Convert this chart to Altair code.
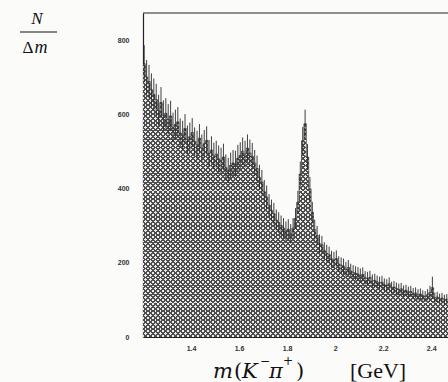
import altair as alt
import pandas as pd

# ---- data ----
bin_start = 1.20
bin_width = 0.01
counts = [
    738, 702, 690, 668, 655, 641, 612, 633, 598, 604,
    588, 597, 566, 574, 581, 551, 545, 563, 533, 541,
    552, 528, 519, 537, 510, 522, 531, 496, 505, 489,
    494, 481, 476, 486, 458, 450, 463, 470, 468, 483,
    490, 502, 494, 510, 497, 488, 470, 455, 431, 418,
    392, 378, 356, 342, 333, 316, 309, 301, 294, 286,
    291, 279, 294, 320, 364, 440, 530, 576, 486, 400,
    336, 290, 274, 252, 249, 233, 226, 222, 211, 208,
    212, 197, 194, 191, 183, 188, 178, 175, 172, 170,
    166, 169, 160, 158, 161, 151, 153, 149, 146, 148,
    141, 139, 144, 133, 135, 131, 128, 130, 124, 126,
    121, 123, 117, 119, 114, 116, 112, 110, 114, 120,
    133, 106, 108, 103, 105, 100, 102,
]
errors = [
    50, 46, 45, 44, 43, 43, 42, 42, 41, 41,
    41, 41, 40, 40, 40, 39, 39, 39, 38, 38,
    39, 38, 38, 38, 37, 37, 38, 36, 37, 36,
    36, 36, 35, 36, 35, 34, 35, 35, 35, 36,
    36, 37, 36, 37, 36, 36, 35, 35, 34, 33,
    32, 31, 30, 29, 29, 28, 28, 27, 27, 26,
    27, 26, 27, 28, 31, 34, 37, 38, 35, 32,
    29, 27, 26, 25, 24, 23, 23, 22, 22, 22,
    22, 21, 21, 21, 20, 20, 20, 19, 19, 19,
    19, 19, 18, 18, 18, 18, 18, 17, 17, 17,
    17, 17, 17, 16, 16, 16, 16, 16, 15, 15,
    15, 15, 15, 15, 15, 15, 14, 14, 15, 18,
    30, 14, 14, 14, 14, 14, 14,
]
x_ticks = [1.4, 1.6, 1.8, 2.0, 2.2, 2.4]
y_ticks = [0, 200, 400, 600, 800]
x_domain = [1.2, 2.47]
y_domain = [0, 875]

# ---- tables ----
lo = [round(bin_start + bin_width * i, 2) for i in range(len(counts))]
hist_df = pd.DataFrame({"lo": lo + [round(lo[-1] + bin_width, 2)],
                        "v": counts + [counts[-1]]})
err_df = pd.DataFrame({
    "mid": [l + bin_width / 2 for l in lo],
    "low": [c - e for c, e in zip(counts, errors)],
    "high": [c + e for c, e in zip(counts, errors)],
})

W, H = 305, 324
xscale = alt.Scale(domain=x_domain, nice=False, zero=False)
yscale = alt.Scale(domain=y_domain, nice=False)

LABEL_FONT = "Liberation Sans"
SERIF = "Liberation Serif"
SERIF_WIDE = "DejaVu Serif"


def stripes(x1, y1, x2, y2, n, dark, light, frac=0.42):
    stops = []
    for i in range(n):
        a = i / n
        b = (i + frac) / n
        c = (i + 1) / n
        stops += [
            {"offset": a, "color": dark},
            {"offset": b, "color": dark},
            {"offset": b, "color": light},
            {"offset": c, "color": light},
        ]
    return {"gradient": "linear", "x1": x1, "y1": y1, "x2": x2, "y2": y2,
            "stops": stops}


DARK = "#4d4d4d"
grad_a = stripes(0, 0, 1, 1, 122, DARK, "#ececec")
grad_b = stripes(1, 0, 0, 1, 122, DARK, "rgba(255,255,255,0)")

x_enc = alt.X("lo:Q", scale=xscale, axis=alt.Axis(
    values=x_ticks, format="~g", title=None, grid=False, tickSize=0,
    labelPadding=7, labelFont=LABEL_FONT, labelFontSize=7, labelFontWeight="bold",
    labelColor="#333", domainColor="#222", domainWidth=1.2))
y_enc = alt.Y("v:Q", scale=yscale, axis=alt.Axis(
    values=y_ticks, title=None, grid=False, tickSize=0, labelPadding=14,
    labelFont=LABEL_FONT, labelFontSize=7, labelFontWeight="bold",
    labelColor="#333", domainColor="#222", domainWidth=1.2))

hist = alt.Chart(hist_df)
area_a = hist.mark_area(interpolate="step-after", fill=grad_a).encode(x=x_enc, y=y_enc)
area_b = hist.mark_area(interpolate="step-after", fill=grad_b).encode(
    x=alt.X("lo:Q", scale=xscale), y=alt.Y("v:Q", scale=yscale))
outline = hist.mark_line(interpolate="step-after", stroke="#3a3a3a", strokeWidth=0.7).encode(
    x=alt.X("lo:Q", scale=xscale), y=alt.Y("v:Q", scale=yscale))

err = alt.Chart(err_df).mark_rule(stroke="#2a2a2a", strokeWidth=0.9).encode(
    x=alt.X("mid:Q", scale=xscale),
    y=alt.Y("low:Q", scale=yscale),
    y2="high:Q",
)

top_frame = alt.Chart(pd.DataFrame({"k": [0]})).mark_rule(stroke="#222", strokeWidth=1.2).encode(
    x=alt.value(0), x2=alt.value(W), y=alt.value(0))


def txt(value, x, y, size, style="normal", align="center", baseline="middle", font=SERIF):
    return alt.Chart(pd.DataFrame({"t": [value]})).mark_text(
        font=font, fontSize=size, fontStyle=style, align=align,
        baseline=baseline, color="#111").encode(
        text="t:N", x=alt.value(x), y=alt.value(y))


# y title  N / Δm
t_n = txt("N", -106, 6, 17, "italic")
frac_line = alt.Chart(pd.DataFrame({"k": [0]})).mark_rule(stroke="#111", strokeWidth=1).encode(
    x=alt.value(-123), x2=alt.value(-86), y=alt.value(19))
t_delta = txt("Δ", -115, 35, 17)
t_m = txt("m", -102, 35, 18, "italic")

# x title  m(K⁻π⁺)  [GeV]
BL = 365
SUP = 352
F = SERIF_WIDE
xt = [
    txt("m", 70, BL, 21, "italic", "left", "alphabetic", F),
    txt("(", 91, BL, 21, "normal", "left", "alphabetic", F),
    txt("K", 99, BL, 21, "italic", "left", "alphabetic", F),
    txt("−", 117, SUP, 12, "normal", "left", "alphabetic", F),
    txt("π", 126, BL, 21, "italic", "left", "alphabetic", F),
    txt("+", 140, SUP, 12, "normal", "left", "alphabetic", F),
    txt(")", 153, BL, 21, "normal", "left", "alphabetic", F),
    txt("[GeV]", 207, BL, 22, "normal", "left", "alphabetic"),
]

chart = alt.layer(
    area_a, area_b, outline, err, top_frame,
    t_n, frac_line, t_delta, t_m, *xt,
).properties(
    width=W, height=H,
    autosize=alt.AutoSizeParams(type="none"),
    padding={"left": 143, "top": 13, "right": 0, "bottom": 45},
    background="#fbfbfa",
).configure_view(strokeWidth=0)

chart.save("out.html", embed_options={"renderer": "svg", "actions": False})
